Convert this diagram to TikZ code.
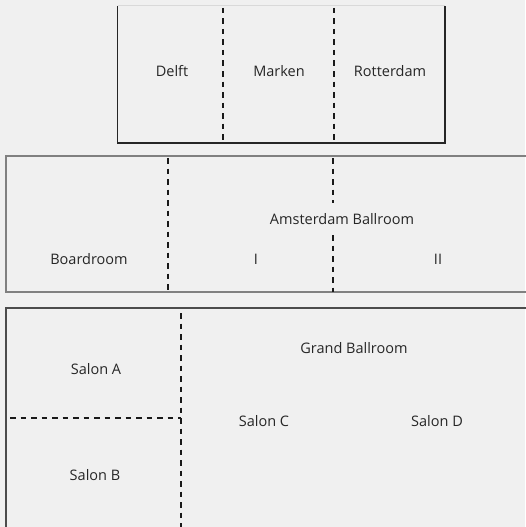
\documentclass[tikz,border=0pt]{standalone}
\usepackage{fontspec}
\setmainfont{Open Sans}
\begin{document}
\begin{tikzpicture}[x=1pt,y=-1pt,
  wall/.style={line width=1.6pt,draw=#1},
  wall/.default={black!85},
  part/.style={line width=1.4pt,draw=black!90,dash pattern=on 5.5pt off 5pt},
  lbl/.style={font=\fontsize{14.5}{16}\selectfont,text=black!85,inner sep=0pt,anchor=center}]
\fill[black!6] (0,0) rectangle (525,527);
\useasboundingbox (0,0) rectangle (525,527);
% top block
\draw[line width=1pt,draw=black!15] (117.5,6) -- (444.7,6);
\draw[wall] (117.5,6) -- (117.5,143) -- (444.7,143) -- (444.7,6);
\draw[part] (223,8) -- (223,143);
\draw[part] (334,8) -- (334,143);
\node[lbl] (delft) at (172,71) {Delft};
\node[lbl] (marken) at (279,71) {Marken};
\node[lbl] (rotterdam) at (390,71) {Rotterdam};
% middle block
\draw[wall=black!50] (527,156) -- (6,156) -- (6,292) -- (527,292);
\draw[part] (168,158) -- (168,292);
\draw[part] (333,158) -- (333,203);
\draw[part] (333,235) -- (333,292);
\node[lbl] (amst) at (342,219) {Amsterdam Ballroom};
\node[lbl] (board) at (89,259) {Boardroom};
\node[lbl] (one) at (256,259) {I};
\node[lbl] (two) at (438,259) {II};
% bottom block
\draw[wall=black!70] (527,308) -- (6,308) -- (6,530);
\draw[part] (181,313) -- (181,530);
\draw[part] (10,418) -- (181,418);
\node[lbl] (grand) at (354,348) {Grand Ballroom};
\node[lbl] (salona) at (96,369) {Salon A};
\node[lbl] (salonc) at (264,421) {Salon C};
\node[lbl] (salond) at (437,421) {Salon D};
\node[lbl] (salonb) at (95,475) {Salon B};
\end{tikzpicture}
\end{document}
